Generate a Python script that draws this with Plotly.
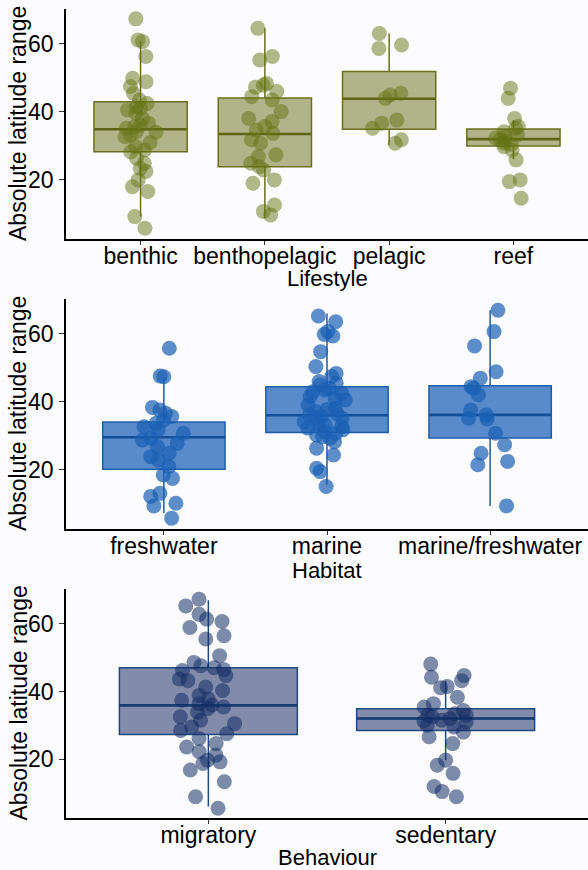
import plotly.graph_objects as go
from plotly.subplots import make_subplots

# ---------------- data ----------------
lifestyle_cats = ["benthic", "benthopelagic", "pelagic", "reef"]
lifestyle_q1 = [28.3, 23.9, 34.9, 30.0]
lifestyle_med = [34.9, 33.5, 43.9, 32.0]
lifestyle_q3 = [43.0, 44.1, 51.9, 35.0]
lifestyle_lo = [9.2, 8.8, 30.3, 26.1]
lifestyle_hi = [60.7, 64.6, 63.1, 37.6]
benthic_pts = [67.4, 61.2, 60.7, 56.3, 49.9, 48.9, 47.5, 45.5, 43.5, 42.5, 41.6, 41.0,
               40.6, 39.6, 38.1, 36.7, 36.0, 35.7, 35.2, 34.2, 34.0, 33.2, 32.7, 31.0,
               29.8, 28.8, 28.3, 26.4, 24.9, 23.4, 22.5, 20.0, 18.0, 16.6, 9.2, 5.8]
benthopelagic_pts = [64.6, 56.3, 55.3, 48.4, 47.9, 47.3, 46.0, 44.5, 43.5, 40.1, 38.1,
                     37.2, 35.7, 34.7, 33.7, 31.8, 30.8, 27.4, 26.9, 24.9, 23.9, 22.9,
                     20.0, 19.0, 12.6, 10.7, 9.7]
pelagic_pts = [63.1, 59.7, 58.7, 45.5, 45.0, 44.0, 37.6, 36.7, 35.2, 31.8, 30.8]
reef_pts = [47.0, 44.0, 38.1, 35.7, 35.2, 34.2, 33.2, 32.8, 32.3, 31.8, 31.3, 30.8,
            30.5, 29.8, 28.8, 25.9, 20.0, 19.5, 14.6]

habitat_cats = ["freshwater", "marine", "marine/freshwater"]
habitat_q1 = [20.2, 31.0, 29.4]
habitat_med = [29.6, 36.1, 36.2]
habitat_q3 = [34.1, 44.5, 44.8]
habitat_lo = [7.3, 15.6, 9.4]
habitat_hi = [47.0, 66.0, 67.0]
freshwater_pts = [55.8, 47.6, 47.4, 38.4, 37.6, 36.7, 35.7, 34.7, 33.7, 32.7, 31.8,
                  30.8, 29.3, 28.8, 27.8, 26.9, 24.9, 23.9, 22.9, 21.0, 18.5, 17.5,
                  13.1, 12.2, 10.2, 9.4, 5.8]
marine_pts = [65.3, 63.6, 60.7, 59.9, 59.4, 54.8, 50.4, 48.4, 47.5, 46.0, 45.0, 44.0,
              43.5, 42.5, 41.6, 40.6, 39.1, 38.1, 37.2, 36.2, 35.2, 34.2, 33.2, 32.3,
              31.3, 30.3, 29.3, 28.3, 26.4, 24.4, 20.5, 19.5, 15.1, 45.5, 43.0, 41.0,
              37.8, 36.6, 35.8, 34.8, 33.8, 32.8, 31.8, 30.8, 29.8]
marine_freshwater_pts = [67.0, 60.7, 56.5, 48.9, 47.0, 44.5, 44.0, 42.1, 37.6, 36.2,
                         35.2, 35.0, 30.8, 27.4, 24.9, 22.5, 21.5, 9.4]

behaviour_cats = ["migratory", "sedentary"]
behaviour_q1 = [27.3, 28.5]
behaviour_med = [35.9, 32.0]
behaviour_q3 = [47.0, 34.9]
behaviour_lo = [6.0, 19.7]
behaviour_hi = [67.0, 43.2]
migratory_pts = [67.3, 65.3, 62.8, 61.4, 60.7, 58.9, 56.5, 55.5, 50.6, 48.6, 47.6,
                 47.0, 46.2, 44.7, 43.7, 43.2, 41.3, 40.3, 38.8, 37.8, 37.4, 36.4,
                 35.4, 34.9, 33.9, 32.5, 31.5, 30.5, 29.5, 28.5, 27.5, 26.1, 24.6,
                 23.6, 22.2, 21.2, 19.7, 19.2, 18.7, 16.8, 13.3, 8.9, 5.5, 46.5, 36.0]
sedentary_pts = [48.1, 44.7, 44.2, 43.2, 41.5, 41.1, 38.3, 36.4, 35.4, 34.4, 33.4,
                 32.9, 32.5, 32.0, 31.5, 31.0, 30.0, 29.5, 28.0, 26.6, 24.6, 19.7,
                 18.2, 15.8, 11.9, 10.4, 8.9, 33.0, 31.2]

y_ticks = [20, 40, 60]
y_title = "Absolute latitude range"

# ---------------- styling ----------------
FONT = "Liberation Sans"
panels = [
    dict(cats=lifestyle_cats, pts=[benthic_pts, benthopelagic_pts, pelagic_pts, reef_pts],
         q1=lifestyle_q1, med=lifestyle_med, q3=lifestyle_q3, lo=lifestyle_lo, hi=lifestyle_hi,
         title="Lifestyle", tgap=39,
         fill="rgba(110,114,30,0.53)", line="#6b6f1f", medline="#5e6418",
         pt="rgba(100,115,20,0.5)"),
    dict(cats=habitat_cats, pts=[freshwater_pts, marine_pts, marine_freshwater_pts],
         q1=habitat_q1, med=habitat_med, q3=habitat_q3, lo=habitat_lo, hi=habitat_hi,
         title="Habitat", tgap=41,
         fill="rgba(35,100,185,0.75)", line="#1f5ea8", medline="#164f96",
         pt="rgba(25,95,180,0.7)"),
    dict(cats=behaviour_cats, pts=[migratory_pts, sedentary_pts],
         q1=behaviour_q1, med=behaviour_med, q3=behaviour_q3, lo=behaviour_lo, hi=behaviour_hi,
         title="Behaviour", tgap=39,
         fill="rgba(30,45,100,0.55)", line="#1e4a80", medline="#153e70",
         pt="rgba(20,45,100,0.55)"),
]

H, W = 870, 588
# pixel extents (top, bottom) of each panel
pix = [(9, 239), (299, 529), (589, 818)]

fig = make_subplots(rows=3, cols=1)

for i, p in enumerate(panels):
    r = i + 1
    fig.add_trace(go.Box(
        x=p["cats"], q1=p["q1"], median=p["med"], q3=p["q3"],
        lowerfence=p["lo"], upperfence=p["hi"],
        width=0.75, whiskerwidth=0, fillcolor=p["fill"],
        line=dict(color=p["line"], width=1.5), boxpoints=False,
        showlegend=False, hoverinfo="skip"), row=r, col=1)
    fig.add_trace(go.Box(
        x=p["cats"], q1=p["med"], median=p["med"], q3=p["med"],
        lowerfence=p["med"], upperfence=p["med"],
        width=0.75, whiskerwidth=0, fillcolor="rgba(0,0,0,0)",
        line=dict(color=p["medline"], width=2.6), boxpoints=False,
        showlegend=False, hoverinfo="skip"), row=r, col=1)
    xs, ys = [], []
    for c, vals in zip(p["cats"], p["pts"]):
        xs += [c] * len(vals)
        ys += vals
    fig.add_trace(go.Box(
        x=xs, y=ys, boxpoints="all", jitter=0.38, pointpos=0, width=0.75,
        fillcolor="rgba(0,0,0,0)", line=dict(width=0, color="rgba(0,0,0,0)"),
        marker=dict(size=15, color=p["pt"], line=dict(width=0)),
        showlegend=False, hoverinfo="skip"), row=r, col=1)

    top, bot = pix[i]
    n = len(p["cats"])
    xa = "xaxis" if r == 1 else f"xaxis{r}"
    ya = "yaxis" if r == 1 else f"yaxis{r}"
    fig.layout[xa].update(
        domain=[66 / W, 1], type="category", categoryorder="array",
        categoryarray=p["cats"], range=[-0.6, n - 0.4],
        showline=True, linecolor="black", linewidth=1.6, showgrid=False,
        zeroline=False, ticks="outside", ticklen=4, tickcolor="#333333",
        ticklabelstandoff=-8,
        tickfont=dict(family=FONT, size=23, color="black"))
    fig.layout[ya].update(
        domain=[1 - bot / H, 1 - top / H], range=[2.6, 70.3],
        tickvals=y_ticks, showline=True, linecolor="black", linewidth=1.6,
        showgrid=False, zeroline=False, ticks="outside", ticklen=5,
        tickcolor="#333333", ticklabelstandoff=1,
        tickfont=dict(family=FONT, size=23, color="black"))
    fig.add_annotation(
        text=p["title"], xref="paper", yref="paper",
        x=(66 + W) / 2 / W, y=1 - (bot + p["tgap"]) / H, xanchor="center",
        yanchor="middle", showarrow=False,
        font=dict(family=FONT, size=22, color="black"))
    fig.add_annotation(
        text=y_title, xref="paper", yref="paper", textangle=-90,
        x=18 / W, y=1 - (top + bot) / 2 / H, xanchor="center", yanchor="middle",
        showarrow=False, font=dict(family=FONT, size=23, color="black"))

fig.update_layout(
    width=W, height=H, margin=dict(l=0, r=0, t=0, b=0),
    boxmode="overlay", plot_bgcolor="#fcfcfe", paper_bgcolor="#fcfcfe",
    showlegend=False)

fig.write_html("out.html")
